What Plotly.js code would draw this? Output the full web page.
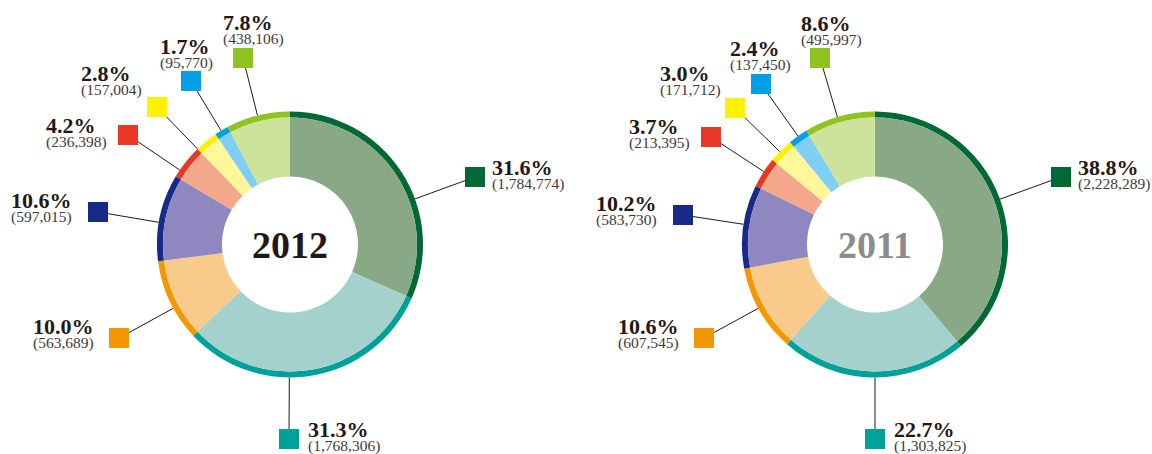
<!DOCTYPE html>
<html>
<head>
<meta charset="utf-8">
<script src="https://cdn.plot.ly/plotly-3.0.1.min.js"></script>
<style>
  html, body { margin: 0; padding: 0; background: #fff; }
  #chart { width: 1152px; height: 454px; }
</style>
</head>
<body>
<div id="chart"></div>
<script>
// slices, clockwise from 12 o'clock
var segments = ['s1', 's2', 's3', 's4', 's5', 's6', 's7', 's8'];
var years = ['2012', '2011'];
var values2012 = [1784774, 1768306, 563689, 597015, 236398, 157004, 95770, 438106];
var values2011 = [2228289, 1303825, 607545, 583730, 213395, 171712, 137450, 495997];

// colours: thin outer ring and lighter fill
var ringColors = ['#006934', '#00a199', '#f39800', '#172a88', '#e83828', '#fff100', '#00a0e9', '#8fc31f'];
var fillColors = ['#89a886', '#a5d1cd', '#f9cb8b', '#8f87bf', '#f3a88b', '#fff799', '#7fcef4', '#cde29b'];

// layout in pixels: donut centres and label placement
var W = 1152, H = 454;
var centers = [[290, 244.5], [875, 244.5]];
var rOuter = 133, rRing = 127, rHole = 68;
var squares = [
    [[475,177],[289,439],[119,338],[98,212],[128,135],[157,107],[191,81],[243,58]],
    [[1061,177],[875,439],[704,338],[683,215],[711,137],[735,108],[761,84],[820,58]]
];
// left edge and centre of the percentage line
var textPos = [
    [[491,166],[307,428.5],[32,325.5],[10,199.5],[45,124],[80,72.5],[159,45],[222,21]],
    [[1077,166],[893,428],[617,325.5],[595,202.5],[628,125.5],[659,72.5],[729,47.5],[800,22.5]]
];
var yearColors = ['#231815', '#8c8c8c'];

function domainFor(c, r) {
    return {
        x: [(c[0] - r) / W, (c[0] + r) / W],
        y: [1 - (c[1] + r) / H, 1 - (c[1] - r) / H]
    };
}

var allValues = [values2012, values2011];
var traces = [];
var annotations = [];
var lineX = [], lineY = [];
var sqX = [], sqY = [], sqC = [];

allValues.forEach(function(vals, k) {
    var c = centers[k];
    var total = vals.reduce(function(a, b) { return a + b; }, 0);

    // outer thin ring
    traces.push({
        type: 'pie', values: vals, labels: segments, sort: false,
        direction: 'clockwise', rotation: 0, hole: rRing / rOuter,
        marker: {colors: ringColors, line: {width: 0}},
        textinfo: 'none', hoverinfo: 'skip', showlegend: false,
        domain: domainFor(c, rOuter)
    });
    // inner light donut
    traces.push({
        type: 'pie', values: vals, labels: segments, sort: false,
        direction: 'clockwise', rotation: 0, hole: rHole / rRing,
        marker: {colors: fillColors, line: {width: 0}},
        textinfo: 'none', hoverinfo: 'skip', showlegend: false,
        domain: domainFor(c, rRing)
    });

    annotations.push({
        x: c[0], y: c[1], xref: 'x', yref: 'y', showarrow: false,
        text: '<b>' + years[k] + '</b>',
        font: {family: 'Liberation Serif', size: 38, color: yearColors[k]},
        xanchor: 'center', yanchor: 'middle'
    });

    vals.forEach(function(v, i) {
        var s = squares[k][i];
        var dx = s[0] - c[0], dy = s[1] - c[1];
        var d = Math.sqrt(dx * dx + dy * dy);
        lineX.push(c[0] + dx / d * rOuter, s[0], null);
        lineY.push(c[1] + dy / d * rOuter, s[1], null);
        sqX.push(s[0]); sqY.push(s[1]); sqC.push(ringColors[i]);

        // percentage + count as one two-line label (base size sets line gap)
        var t = textPos[k][i];
        annotations.push({
            x: t[0], y: t[1] - 12.3, xref: 'x', yref: 'y', showarrow: false,
            text: '<span style="font-size:22px;color:#231815"><b>' + (v / total * 100).toFixed(1) + '%</b></span>' +
                  '<br><span style="font-size:15.5px">(' + v.toLocaleString('en-US') + ')</span>',
            font: {family: 'Liberation Serif', size: 10.8, color: '#3e3a39'},
            align: 'left', xanchor: 'left', yanchor: 'top', borderpad: 0
        });
    });
});

// leader lines and colour keys
traces.unshift({
    type: 'scatter', mode: 'markers', x: sqX, y: sqY,
    marker: {symbol: 'square', size: 20, color: sqC, line: {width: 0}},
    hoverinfo: 'skip', showlegend: false
});
traces.unshift({
    type: 'scatter', mode: 'lines', x: lineX, y: lineY,
    line: {color: '#231815', width: 1}, hoverinfo: 'skip', showlegend: false
});

var layout = {
    width: W, height: H,
    margin: {l: 0, r: 0, t: 0, b: 0},
    paper_bgcolor: '#fff', plot_bgcolor: '#fff',
    xaxis: {range: [0, W], visible: false, fixedrange: true},
    yaxis: {range: [H, 0], visible: false, fixedrange: true},
    annotations: annotations,
    showlegend: false
};

Plotly.newPlot('chart', traces, layout, {displayModeBar: false, staticPlot: true});
</script>
</body>
</html>
